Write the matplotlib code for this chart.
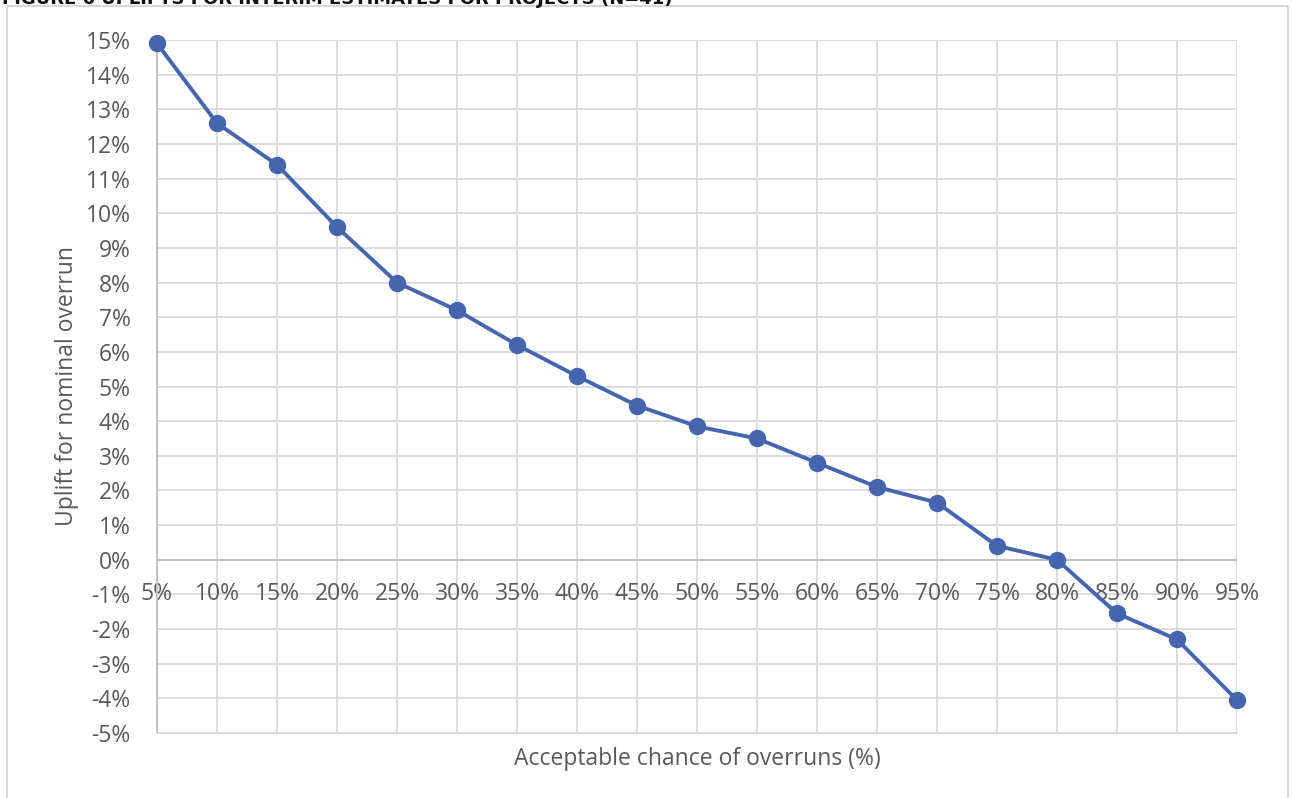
import matplotlib.pyplot as plt
from matplotlib.patches import Rectangle
from matplotlib.ticker import FuncFormatter, MultipleLocator

# acceptable chance of overruns vs. required uplift
chance = [5, 10, 15, 20, 25, 30, 35, 40, 45, 50, 55, 60, 65, 70, 75, 80, 85, 90, 95]
uplift = [14.9, 12.6, 11.4, 9.6, 8.0, 7.2, 6.2, 5.3, 4.45, 3.85, 3.5, 2.8, 2.1, 1.65,
          0.4, 0.0, -1.55, -2.3, -4.05]
tick_labels = ['%d%%' % c for c in chance]

line_color = '#4566AE'
text_color = '#595959'
grid_color = '#D9D9D9'

plt.rcParams['font.family'] = ['Open Sans', 'DejaVu Sans']

fig = plt.figure(figsize=(12.92, 7.98), dpi=100)
W, H = 1292, 798

# chart frame
fig.patches.append(Rectangle((7 / W, -0.05), 1281 / W, 1.05 - 6 / H, transform=fig.transFigure,
                             fill=False, edgecolor='#D0D0D0', linewidth=1.2))

# caption line running off the top edge
fig.text(2 / W, 1 + 1 / H, 'FIGURE 6 UPLIFTS FOR INTERIM ESTIMATES FOR PROJECTS (N=41)',
         fontsize=13, fontweight='bold', family='DejaVu Sans', color='#111111',
         va='center', ha='left')

ax = fig.add_axes([157 / W, 1 - 733 / H, (1237 - 157) / W, (733 - 40) / H])
idx = list(range(len(chance)))
ax.plot(idx, uplift, color=line_color, linewidth=2.8, marker='o', markersize=11.5,
        zorder=3, clip_on=False)

ax.set_xlim(0, len(chance) - 1)
ax.set_ylim(-5, 15)
ax.yaxis.set_major_locator(MultipleLocator(1))
ax.yaxis.set_major_formatter(FuncFormatter(lambda v, p: '%d%%' % round(v)))
ax.set_xticks(idx)
ax.set_xticklabels([])

ax.grid(True, color=grid_color, linewidth=1.3)
ax.set_axisbelow(True)
for s in ['top', 'right']:
    ax.spines[s].set_visible(False)
ax.spines['left'].set_color('#BFBFBF')
ax.spines['left'].set_linewidth(1.3)
ax.spines['bottom'].set_color(grid_color)
ax.spines['bottom'].set_linewidth(1.3)
ax.axhline(0, color='#BFBFBF', linewidth=1.5, zorder=1)

ax.tick_params(axis='y', length=0, labelsize=16.5, colors=text_color, pad=19)
ax.tick_params(axis='x', length=0, pad=0)

# category labels sit just under the zero line
for i, lab in zip(idx, tick_labels):
    ax.text(i, -1.0, lab, ha='center', va='center', fontsize=16.5, color=text_color, zorder=2)

ax.set_xlabel('Acceptable chance of overruns (%)', fontsize=16.5, color=text_color, labelpad=10)
ax.set_ylabel('Uplift for nominal overrun', fontsize=16.5, color=text_color, labelpad=5)

fig.savefig('out.png', dpi=100)
